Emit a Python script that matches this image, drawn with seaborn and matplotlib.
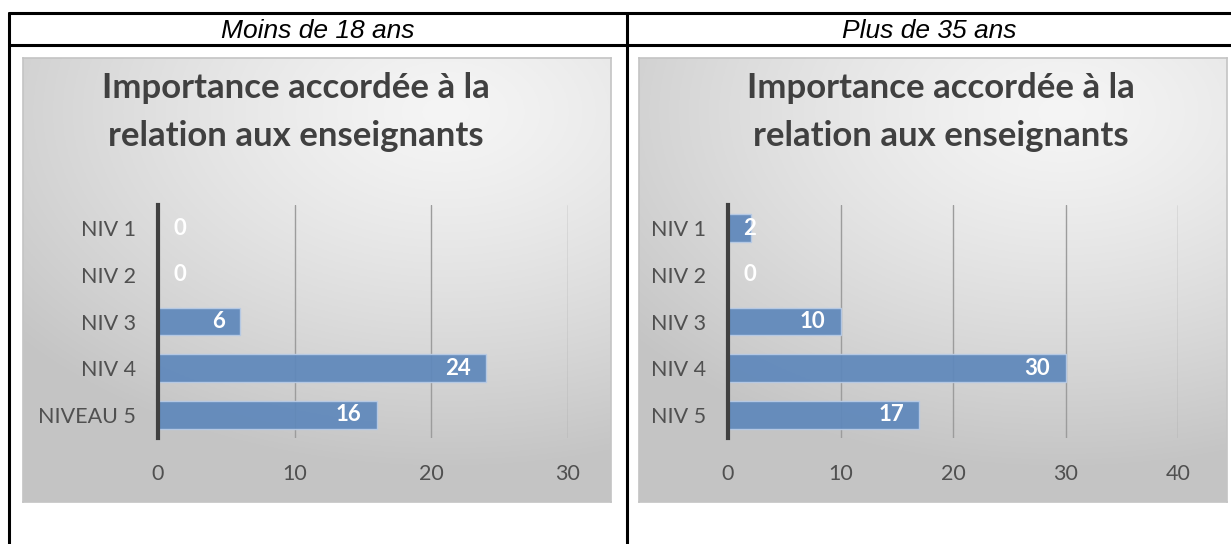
import numpy as np
import matplotlib
matplotlib.use("Agg")
import matplotlib.pyplot as plt
import seaborn as sns
from matplotlib.lines import Line2D

# chart data
headers = ["Moins de 18 ans", "Plus de 35 ans"]
chart_title = "Importance accordée à la\nrelation aux enseignants"
categories_left = ["NIV 1", "NIV 2", "NIV 3", "NIV 4", "NIVEAU 5"]
values_left = [0, 0, 6, 24, 16]
xticks_left = [0, 10, 20, 30]
categories_right = ["NIV 1", "NIV 2", "NIV 3", "NIV 4", "NIV 5"]
values_right = [2, 0, 10, 30, 17]
xticks_right = [0, 10, 20, 30, 40]

W, H = 1231, 544
DPI = 100
BAR_COLOR = "#4f86cb"
TEXT_GRAY = "#505050"
TITLE_GRAY = "#404040"

sns.set_theme(style="white")
plt.rcParams["font.family"] = ["Lato", "DejaVu Sans"]

fig = plt.figure(figsize=(W / DPI, H / DPI), dpi=DPI)
fig.patch.set_facecolor("white")


def px_box(x0, y0, x1, y1):
    # pixel box (top-left origin) -> figure fraction rect
    return [x0 / W, 1 - y1 / H, (x1 - x0) / W, (y1 - y0) / H]


def gradient(nx=300, ny=220):
    xx, yy = np.meshgrid(np.linspace(0, 1, nx), np.linspace(0, 1, ny))
    d = np.sqrt(((xx - 0.72) / 1.0) ** 2 + ((yy - 0.12) / 0.85) ** 2)
    d = np.clip(d / 0.95, 0, 1)
    v = 0.96 - 0.19 * d ** 1.3
    return np.dstack([v, v, v])


def draw_chart(box, plot_px, title_x, cats, vals, ticks):
    # chart background with gradient
    bg = fig.add_axes(px_box(*box), zorder=0)
    bg.imshow(gradient(), aspect="auto", extent=[0, 1, 1, 0])
    bg.set_xlim(0, 1)
    bg.set_ylim(1, 0)
    bg.set_xticks([])
    bg.set_yticks([])
    for side, sp in bg.spines.items():
        sp.set_color("#c4c4c4")
        sp.set_linewidth(1.2)

    fig.text(title_x / W, 1 - 112 / H, chart_title, ha="center", va="center",
             fontsize=25, fontweight="bold", color=TITLE_GRAY, linespacing=1.6)

    ax = fig.add_axes(px_box(*plot_px), zorder=2)
    ax.patch.set_alpha(0)
    sns.barplot(x=vals, y=cats, orient="h", color=BAR_COLOR, width=0.6,
                edgecolor="#b8cbe6", linewidth=1.0, alpha=0.93, ax=ax, zorder=3)
    ax.set_xlim(ticks[0], ticks[-1])
    ax.set_xticks(ticks)
    ax.set_ylim(4.5, -0.5)
    for t in ticks[1:]:
        ax.axvline(t, color="#9c9c9c", linewidth=1.0, zorder=1)
    for side in ["top", "right", "bottom"]:
        ax.spines[side].set_visible(False)
    ax.spines["left"].set_color("#404040")
    ax.spines["left"].set_linewidth(3)
    ax.spines["left"].set_zorder(5)
    ax.tick_params(axis="y", length=0, pad=16, labelsize=15.5, labelcolor=TEXT_GRAY)
    ax.tick_params(axis="x", length=0, pad=19, labelsize=15.5, labelcolor=TEXT_GRAY)
    ax.set_xlabel("")
    ax.set_ylabel("")

    # data labels: inside end, or at the base when the bar is too short
    for i, v in enumerate(vals):
        if v < 3:
            ax.annotate(str(v), (0, i), xytext=(11, 0), textcoords="offset points",
                        ha="left", va="center", color="white", fontsize=16,
                        fontweight="bold", zorder=6)
        else:
            ax.annotate(str(v), (v, i), xytext=(-11, 0), textcoords="offset points",
                        ha="right", va="center", color="white", fontsize=16,
                        fontweight="bold", zorder=6)
    return ax


draw_chart((23, 58, 611, 502), (158, 205, 568, 438), 296,
           categories_left, values_left, xticks_left)
draw_chart((639, 58, 1227, 502), (728, 205, 1178, 438), 941,
           categories_right, values_right, xticks_right)

# table header text
for cx, label in zip([318, 929], headers):
    fig.text(cx / W, 1 - 31 / H, label, ha="center", va="center", fontsize=19,
             style="italic", color="black", family=["Liberation Sans", "DejaVu Sans"])

# table lines
lw = 2.2
for y in [13, 45]:
    fig.add_artist(Line2D([9 / W, 1], [1 - y / H, 1 - y / H], color="black", linewidth=lw))
for x in [9, 627]:
    fig.add_artist(Line2D([x / W, x / W], [1 - 13 / H, 0], color="black", linewidth=lw))

fig.savefig("out.png", dpi=DPI, facecolor="white")
